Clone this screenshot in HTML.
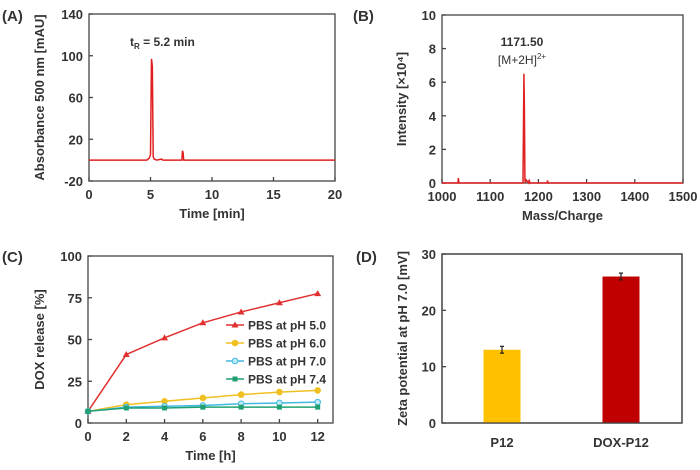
<!DOCTYPE html>
<html><head><meta charset="utf-8"><style>
body{margin:0;background:#fff;}
svg{display:block;font-family:"Liberation Sans",Arial,sans-serif;font-weight:bold;}
text{fill:#333;}
</style></head><body>
<svg width="700" height="470" viewBox="0 0 700 470">
<g id="A"></g>
<g id="B"></g>
<g id="C"></g>
<g id="D"></g>
</svg>
<script>
// Panel A data
const aTime = [0, 4.7, 4.9, 5.0, 5.08, 5.15, 5.22, 5.3, 5.5, 5.9, 6.0, 7.55, 7.6, 7.65, 7.7, 20];
const aAbs = [0, 0, 2, 5, 97, 90, 3, 1, 0, 1, 0, 0, 9, 7, 0, 0];
const aXTicks = [0, 5, 10, 15, 20];
const aYTicks = [-20, 20, 60, 100, 140];
// Panel B data
const bMz = [1000, 1033, 1034, 1035, 1168, 1170, 1171, 1172, 1173, 1174, 1180, 1181, 1182, 1218, 1219, 1220, 1500];
const bInt = [0, 0, 0.3, 0, 0, 6.5, 4.3, 0.2, 0, 0.2, 0, 0.2, 0, 0, 0.15, 0, 0];
const bXTicks = [1000, 1100, 1200, 1300, 1400, 1500];
const bYTicks = [0, 2, 4, 6, 8, 10];
// Panel C data
const cTime = [0, 2, 4, 6, 8, 10, 12];
const cPh50 = [7, 41, 51, 60, 66.5, 72, 77.5];
const cPh60 = [7, 11, 13, 15, 17, 18.5, 19.5];
const cPh70 = [7, 9.5, 10, 10.5, 11.5, 12, 12.5];
const cPh74 = [7, 9, 9, 9.5, 9.5, 9.5, 9.5];
const cNames = ["PBS at pH 5.0", "PBS at pH 6.0", "PBS at pH 7.0", "PBS at pH 7.4"];
const cXTicks = [0, 2, 4, 6, 8, 10, 12];
const cYTicks = [0, 25, 50, 75, 100];
// Panel D data
const dCats = ["P12", "DOX-P12"];
const dVals = [13, 26];
const dErr = [0.6, 0.6];
const dYTicks = [0, 10, 20, 30];

const NS = "http://www.w3.org/2000/svg";
function mk(parent, tag, attrs, txt) {
  const e = document.createElementNS(NS, tag);
  for (const k in attrs) e.setAttribute(k, attrs[k]);
  if (txt !== undefined) e.textContent = txt;
  parent.appendChild(e);
  return e;
}
function lin(d0, d1, r0, r1) { return v => r0 + (v - d0) / (d1 - d0) * (r1 - r0); }

function frame(g, L, T, R, B, xs, ys, xTicks, yTicks, xTitle, yTitle, letter, letterX, letterY, yTitleX, xTickInner) {
  const box = mk(g, "rect", {x: L, y: T, width: R - L, height: B - T, fill: "none", stroke: "#444", "stroke-width": 1.3});
  
  
  xTicks.forEach(t => {
    const x = xs(t);
    mk(g, "line", {x1: x, x2: x, y1: B, y2: B - 4, stroke: "#444", "stroke-width": 1.3});
    const lt = mk(g, "text", {x: x, y: B + 18, "text-anchor": "middle", "font-size": 13}, t);
    
    
  });
  yTicks.forEach(t => {
    const y = ys(t);
    mk(g, "line", {x1: L, x2: L + 4, y1: y, y2: y, stroke: "#444", "stroke-width": 1.3});
    const lt = mk(g, "text", {x: L - 6, y: y + 5, "text-anchor": "end", "font-size": 13}, t);
    
    
  });
  if (xTitle) {
    const xt = mk(g, "text", {x: (L + R) / 2, y: B + 37, "text-anchor": "middle", "font-size": 13}, xTitle);
    
    
  }
  const yt = mk(g, "text", {x: 0, y: 0, "text-anchor": "middle", "font-size": 13, transform: `translate(${yTitleX},${(T + B) / 2}) rotate(-90)`}, yTitle);
  
  
  const pl = mk(g, "text", {x: letterX, y: letterY, "font-size": 15}, letter);
  
  
}

// Panel A
(function () {
  const g = document.getElementById("A");
  const L = 89, R = 335, T = 14, B = 181;
  const xs = lin(0, 20, L, R), ys = lin(-20, 140, B, T);
  frame(g, L, T, R, B, xs, ys, aXTicks, aYTicks, "Time [min]", "Absorbance 500 nm [mAU]", "(A)", 2, 21, 44);
  const pts = aTime.map((t, i) => xs(t) + "," + ys(aAbs[i])).join(" ");
  const l = mk(g, "polyline", {points: pts, fill: "none", stroke: "#e02020", "stroke-width": 1.5});
  
  
  const a = mk(g, "text", {x: 130, y: 46, "font-size": 12});
  
  
  a.innerHTML = 't<tspan font-size="8" dy="3">R</tspan><tspan dy="-3"> = 5.2 min</tspan>';
})();

// Panel B
(function () {
  const g = document.getElementById("B");
  const L = 442, R = 683, T = 15, B = 183;
  const xs = lin(1000, 1500, L, R), ys = lin(0, 10, B, T);
  frame(g, L, T, R, B, xs, ys, bXTicks, bYTicks, "Mass/Charge", "Intensity [×10⁴]", "(B)", 353, 21, 406);
  const pts = bMz.map((t, i) => xs(t) + "," + ys(bInt[i])).join(" ");
  const l = mk(g, "polyline", {points: pts, fill: "none", stroke: "#e02020", "stroke-width": 1.5});
  
  
  const a1 = mk(g, "text", {x: 522, y: 46, "text-anchor": "middle", "font-size": 12}, "1171.50");
  
  
  const a2 = mk(g, "text", {x: 522, y: 64, "text-anchor": "middle", "font-size": 12, "font-weight": "normal"});
  
  
  a2.innerHTML = '[M+2H]<tspan font-size="8" dy="-5">2+</tspan>';
})();

// Panel C
(function () {
  const g = document.getElementById("C");
  const L = 88, R = 333, T = 256, B = 423;
  const xs = lin(0, 12.8, L, R), ys = lin(0, 100, B, T);
  frame(g, L, T, R, B, xs, ys, cXTicks, cYTicks, "Time [h]", "DOX release [%]", "(C)", 2, 262, 44);
  const series = [cPh50, cPh60, cPh70, cPh74];
  const colors = ["#e03030", "#f0c020", "#40b8e0", "#20a070"];
  const names = ["series-ph-5-0", "series-ph-6-0", "series-ph-7-0", "series-ph-7-4"];
  series.forEach((s, k) => {
    const sg = mk(g, "g", {});
    
    
    mk(sg, "polyline", {points: cTime.map((t, i) => xs(t) + "," + ys(s[i])).join(" "), fill: "none", stroke: colors[k], "stroke-width": 1.5});
    cTime.forEach((t, i) => {
      const x = xs(t), y = ys(s[i]);
      let m;
      if (k === 0) m = mk(sg, "polygon", {points: `${x},${y - 3.5} ${x - 3.5},${y + 2.5} ${x + 3.5},${y + 2.5}`, fill: colors[k]});
      else if (k === 3) m = mk(sg, "rect", {x: x - 2.5, y: y - 2.5, width: 5, height: 5, fill: colors[k]});
      else m = mk(sg, "circle", {cx: x, cy: y, r: 2.8, fill: k === 2 ? "#bfeaf8" : colors[k], stroke: colors[k]});
      
      
    });
    const ly = 325 + k * 18;
    const lg = mk(g, "g", {});
    
    
    mk(lg, "line", {x1: 226, x2: 244, y1: ly, y2: ly, stroke: colors[k], "stroke-width": 1.5});
    if (k === 0) mk(lg, "polygon", {points: `235,${ly - 3.5} 231.5,${ly + 2.5} 238.5,${ly + 2.5}`, fill: colors[k]});
    else if (k === 3) mk(lg, "rect", {x: 232.5, y: ly - 2.5, width: 5, height: 5, fill: colors[k]});
    else mk(lg, "circle", {cx: 235, cy: ly, r: 2.8, fill: k === 2 ? "#bfeaf8" : colors[k], stroke: colors[k]});
    mk(lg, "text", {x: 248, y: ly + 4.5, "font-size": 12}, cNames[k]);
  });
})();

// Panel D
(function () {
  const g = document.getElementById("D");
  const L = 442, R = 682, T = 254, B = 423;
  const ys = lin(0, 30, B, T);
  const centers = [502, 621];
  const colors = ["#ffc000", "#c00000"];
  frame(g, L, T, R, B, null, ys, [], dYTicks, null, "Zeta potential at pH 7.0 [mV]", "(D)", 356, 262, 407);
  dVals.forEach((v, i) => {
    const c = centers[i], y = ys(v);
    const b = mk(g, "rect", {x: c - 18.5, y: y, width: 37, height: B - y, fill: colors[i]});
    
    
    const e = mk(g, "path", {d: `M${c},${ys(v + dErr[i])}V${ys(v - dErr[i])}M${c - 2},${ys(v + dErr[i])}H${c + 2}M${c - 2},${ys(v - dErr[i])}H${c + 2}`, stroke: "#222", "stroke-width": 1.2, fill: "none"});
    
    
    const t = mk(g, "text", {x: c, y: B + 24, "text-anchor": "middle", "font-size": 13}, dCats[i]);
    
    
  });
  mk(g, "rect", {x: L, y: T, width: R - L, height: B - T, fill: "none", stroke: "#444", "stroke-width": 1.3});
})();
</script>
</body></html>
